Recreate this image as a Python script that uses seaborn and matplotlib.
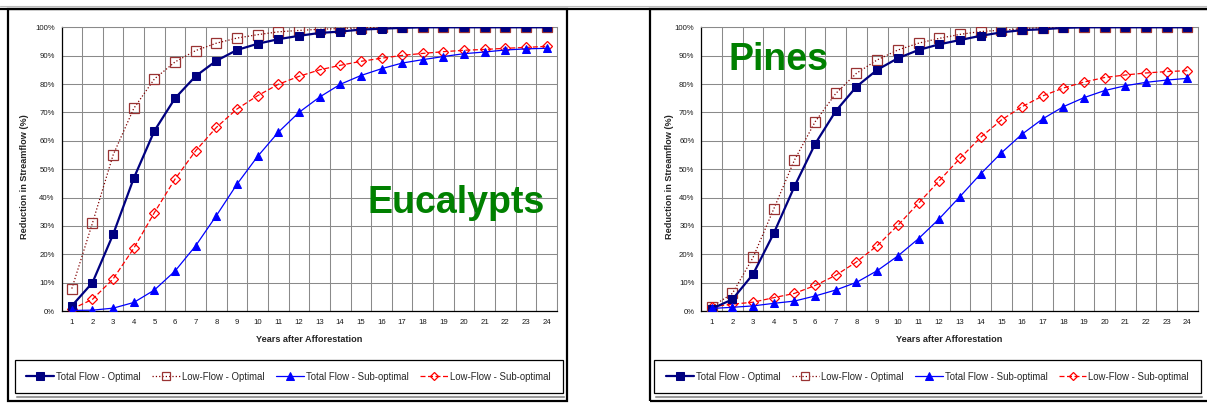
import matplotlib
matplotlib.use("Agg")
import matplotlib.pyplot as plt
from matplotlib.patches import Rectangle
from matplotlib.lines import Line2D
from matplotlib.ticker import FixedLocator, FuncFormatter
import seaborn as sns
import pandas as pd

# years after afforestation (category axis)
years = list(range(1, 25))

# Eucalypts - reduction in streamflow (%)
euc_total_opt = [1.8, 10, 27, 46.8, 63.5, 75, 82.8, 88.2, 92, 94.2, 95.8, 97,
                 98, 98.5, 99.2, 99.5, 99.8, 100, 100, 100, 100, 100, 100, 100]
euc_low_opt = [7.9, 31, 55, 71.4, 81.8, 87.8, 91.8, 94.4, 96.2, 97.4, 98.4, 98.9,
               99.3, 99.6, 99.8, 100, 100, 100, 100, 100, 100, 100, 100, 100]
euc_total_sub = [0.2, 0.3, 1, 3, 7.4, 14.1, 23, 33.6, 44.7, 54.5, 63, 70,
                 75.4, 79.9, 83, 85.4, 87.4, 88.6, 89.7, 90.7, 91.3, 92, 92.4, 92.6]
euc_low_sub = [0.7, 4.1, 11.3, 22.1, 34.7, 46.5, 56.5, 64.7, 71.2, 75.9, 79.9, 82.7,
               85, 86.6, 88, 89.1, 90.1, 90.8, 91.4, 91.9, 92.2, 92.6, 92.9, 93.3]

# Pines - reduction in streamflow (%)
pine_total_opt = [0.8, 4.1, 13, 27.4, 43.9, 58.9, 70.5, 79.1, 85, 89.1, 92, 94,
                  95.5, 97, 98.2, 99, 99.3, 99.8, 100, 100, 100, 100, 100, 100]
pine_low_opt = [1.5, 6.2, 18.9, 36, 53.2, 66.7, 76.7, 83.8, 88.5, 92, 94.4, 96.1,
                97.5, 98.5, 99, 99.5, 99.9, 100, 100, 100, 100, 100, 100, 100]
pine_total_sub = [0.9, 1.3, 1.8, 2.7, 3.5, 5.3, 7.4, 10.1, 14.2, 19.4, 25.5, 32.5,
                  40.3, 48.3, 55.7, 62.3, 67.7, 72, 75.2, 77.7, 79.4, 80.6, 81.4, 82]
pine_low_sub = [1.5, 2.4, 3.1, 4.7, 6.2, 9, 12.6, 17.3, 23, 30.2, 38, 45.9,
                53.8, 61.2, 67.3, 72, 75.8, 78.6, 80.7, 82.3, 83.2, 83.9, 84.4, 84.7]

series_names = ["Total Flow - Optimal", "Low-Flow - Optimal",
                "Total Flow - Sub-optimal", "Low-Flow - Sub-optimal"]
y_ticks = list(range(0, 101, 10))

sns.set_style("white")
plt.rcParams['font.family'] = ['Liberation Sans', 'DejaVu Sans']

W, H = 1207, 403
fig = plt.figure(figsize=(W / 100, H / 100), dpi=100)


def px_box(x0, y0, x1, y1):
    """ pixel box (top-left origin) -> figure fraction [left, bottom, w, h] """
    return [x0 / W, 1 - y1 / H, (x1 - x0) / W, (y1 - y0) / H]


# line / marker styles for each series (legend order)
styles = [
    dict(color="#000080", linestyle="-", linewidth=1.6, marker="s", markersize=6,
         markerfacecolor="#000080", markeredgecolor="#000080", zorder=5),
    dict(color="#800000", linestyle=":", linewidth=0.9, marker="s", markersize=6.5,
         markerfacecolor="none", markeredgecolor="#993333", markeredgewidth=0.9, zorder=4),
    dict(color="#0000FF", linestyle="-", linewidth=0.9, marker="^", markersize=6,
         markerfacecolor="#0000FF", markeredgecolor="#0000FF", zorder=5),
    dict(color="#FF0000", linestyle=(0, (4, 2)), linewidth=0.9, marker="D", markersize=5,
         markerfacecolor="none", markeredgecolor="#FF0000", markeredgewidth=0.9, zorder=4),
]


def draw_panel(ax, values, label_x):
    df = pd.DataFrame({"year": years})
    for name, vals in zip(series_names, values):
        df[name] = vals

    # draw the open markers first so the filled ones sit on top
    for i in [1, 3, 0, 2]:
        sns.lineplot(data=df, x="year", y=series_names[i], ax=ax,
                     label=series_names[i], legend=False, **styles[i])

    ax.set_xlim(0.5, 24.5)
    ax.set_ylim(0, 100)
    ax.set_xticks(years)
    ax.set_xticklabels([str(y) for y in years])
    ax.xaxis.set_minor_locator(FixedLocator([y + 0.5 for y in range(0, 25)]))
    ax.set_yticks(y_ticks)
    ax.yaxis.set_major_formatter(FuncFormatter(lambda v, p: "%d%%" % v))

    ax.tick_params(axis="x", which="major", length=0, pad=6, labelsize=5.6, labelcolor="#1a1a1a")
    ax.tick_params(axis="x", which="minor", length=3, width=0.8, color="black", direction="out")
    ax.tick_params(axis="y", length=3, width=0.8, color="black", direction="out",
                   pad=2, labelsize=5.6, labelcolor="#1a1a1a")

    ax.grid(False)
    ax.grid(True, axis="y", which="major", color="#8a8a8a", linewidth=0.75)
    ax.grid(True, axis="x", which="minor", color="#8a8a8a", linewidth=0.75)
    ax.set_axisbelow(True)

    for side in ["left", "bottom"]:
        ax.spines[side].set_color("black")
        ax.spines[side].set_linewidth(0.9)
    for side in ["top", "right"]:
        ax.spines[side].set_color("#8a8a8a")
        ax.spines[side].set_linewidth(0.75)

    ax.set_xlabel("Years after Afforestation", fontsize=6.6, fontweight="bold", va="center")
    ax.xaxis.set_label_coords(0.5, -0.102)
    ax.set_ylabel("Reduction in Streamflow (%)", fontsize=6.6, fontweight="bold", va="center")
    ax.yaxis.set_label_coords(label_x, 0.472)


def add_legend(ax, box):
    handles, labels = ax.get_legend_handles_labels()
    order = [labels.index(n) for n in series_names]
    leg = fig.legend([handles[i] for i in order], [labels[i] for i in order],
                     loc="center", bbox_to_anchor=box, bbox_transform=fig.transFigure,
                     ncol=4, mode="expand", fontsize=6.9, frameon=True, fancybox=False,
                     edgecolor="black", framealpha=1, borderpad=1.25, handlelength=2.9,
                     handletextpad=0.2, borderaxespad=0, markerscale=0.85)
    leg.get_frame().set_linewidth(0.9)
    # thin grey shadow under the legend box
    l, b, w, h = box
    fig.add_artist(Line2D([l + 2 / W, l + w + 1 / W], [b - 1.5 / H] * 2,
                          transform=fig.transFigure, color="#9a9a9a", linewidth=1.5))


# left panel - Eucalypts
ax1 = fig.add_axes(px_box(61.5, 27.3, 557, 311))
draw_panel(ax1, [euc_total_opt, euc_low_opt, euc_total_sub, euc_low_sub], -0.0737)
ax1.text(0.976, 0.345, "Eucalypts", transform=ax1.transAxes, ha="right", va="baseline",
         fontsize=27, fontweight="bold", color="#008000", zorder=6)
add_legend(ax1, px_box(14.5, 358, 562.5, 395))

# right panel - Pines
ax2 = fig.add_axes(px_box(701.4, 27.3, 1197.7, 311))
draw_panel(ax2, [pine_total_opt, pine_low_opt, pine_total_sub, pine_low_sub], -0.0647)
ax2.text(0.0556, 0.849, "Pines", transform=ax2.transAxes, ha="left", va="baseline",
         fontsize=27, fontweight="bold", color="#008000", zorder=6)
add_legend(ax2, px_box(654, 358, 1201, 395))

# page frames round the two charts
fig.add_artist(Line2D([0, 1], [1 - 6 / H] * 2, transform=fig.transFigure,
                      color="#bbbbbb", linewidth=0.8))
fig.add_artist(Line2D([0, 1], [1 - 8.5 / H] * 2, transform=fig.transFigure,
                      color="black", linewidth=1.6))
for x0, x1 in [(7.5, 566.5), (650, 1212)]:
    l, b, w, h = px_box(x0, 8.5, x1, 401)
    fig.add_artist(Rectangle((l, b), w, h, transform=fig.transFigure,
                             fill=False, edgecolor="black", linewidth=1.6))

fig.savefig("out.png", dpi=100)
